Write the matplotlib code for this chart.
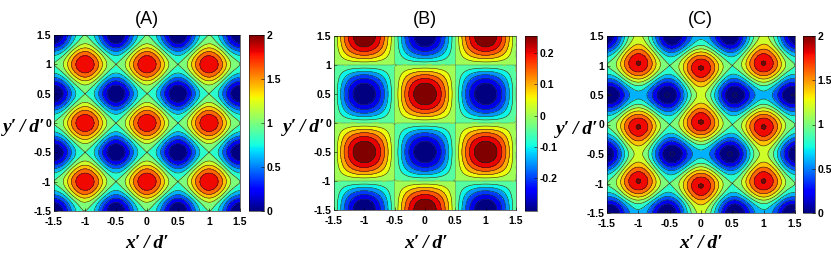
import matplotlib
matplotlib.use("Agg")
import matplotlib.pyplot as plt
import matplotlib.tri as mtri
import numpy as np

# grid nodes, step 0.125
x_nodes = [-1.5 + 0.125 * i for i in range(25)]
y_nodes = [-1.5 + 0.125 * i for i in range(25)]

# one repeating cell of each map, rows go upward from y=-1.5, columns from x=-1.5
# (A) repeats every 1 in x and y
cell_a = [
    [0, .146, .5, .854, 1, .854, .5, .146],
    [.146, .292, .646, 1, 1.146, 1, .646, .292],
    [.5, .646, 1, 1.354, 1.5, 1.354, 1, .646],
    [.854, 1, 1.354, 1.708, 1.854, 1.708, 1.354, 1],
    [1, 1.146, 1.5, 1.854, 2, 1.854, 1.5, 1.146],
    [.854, 1, 1.354, 1.708, 1.854, 1.708, 1.354, 1],
    [.5, .646, 1, 1.354, 1.5, 1.354, 1, .646],
    [.146, .292, .646, 1, 1.146, 1, .646, .292],
]
# (B) and (C) repeat every 2
cell_b = [
    [0, -.096, -.177, -.231, -.25, -.231, -.177, -.096, 0, .096, .177, .231, .25, .231, .177, .096],
    [0, -.088, -.163, -.213, -.231, -.213, -.163, -.088, 0, .088, .163, .213, .231, .213, .163, .088],
    [0, -.068, -.125, -.163, -.177, -.163, -.125, -.068, 0, .068, .125, .163, .177, .163, .125, .068],
    [0, -.037, -.068, -.088, -.096, -.088, -.068, -.037, 0, .037, .068, .088, .096, .088, .068, .037],
    [0, 0, 0, 0, 0, 0, 0, 0, 0, 0, 0, 0, 0, 0, 0, 0],
    [0, .037, .068, .088, .096, .088, .068, .037, 0, -.037, -.068, -.088, -.096, -.088, -.068, -.037],
    [0, .068, .125, .163, .177, .163, .125, .068, 0, -.068, -.125, -.163, -.177, -.163, -.125, -.068],
    [0, .088, .163, .213, .231, .213, .163, .088, 0, -.088, -.163, -.213, -.231, -.213, -.163, -.088],
    [0, .096, .177, .231, .25, .231, .177, .096, 0, -.096, -.177, -.231, -.25, -.231, -.177, -.096],
    [0, .088, .163, .213, .231, .213, .163, .088, 0, -.088, -.163, -.213, -.231, -.213, -.163, -.088],
    [0, .068, .125, .163, .177, .163, .125, .068, 0, -.068, -.125, -.163, -.177, -.163, -.125, -.068],
    [0, .037, .068, .088, .096, .088, .068, .037, 0, -.037, -.068, -.088, -.096, -.088, -.068, -.037],
    [0, 0, 0, 0, 0, 0, 0, 0, 0, 0, 0, 0, 0, 0, 0, 0],
    [0, -.037, -.068, -.088, -.096, -.088, -.068, -.037, 0, .037, .068, .088, .096, .088, .068, .037],
    [0, -.068, -.125, -.163, -.177, -.163, -.125, -.068, 0, .068, .125, .163, .177, .163, .125, .068],
    [0, -.088, -.163, -.213, -.231, -.213, -.163, -.088, 0, .088, .163, .213, .231, .213, .163, .088],
]
cell_c = [
    [0, .05, .323, .623, .75, .623, .323, .05, 0, .242, .677, 1.085, 1.25, 1.085, .677, .242],
    [.146, .204, .483, .787, .915, .787, .483, .204, .146, .38, .809, 1.213, 1.377, 1.213, .809, .38],
    [.5, .578, .875, 1.191, 1.323, 1.191, .875, .578, .5, .714, 1.125, 1.517, 1.677, 1.517, 1.125, .714],
    [.854, .963, 1.286, 1.62, 1.758, 1.62, 1.286, .963, .854, 1.037, 1.422, 1.796, 1.95, 1.796, 1.422, 1.037],
    [1, 1.146, 1.5, 1.854, 2, 1.854, 1.5, 1.146, 1, 1.146, 1.5, 1.854, 2, 1.854, 1.5, 1.146],
    [.854, 1.037, 1.422, 1.796, 1.95, 1.796, 1.422, 1.037, .854, .963, 1.286, 1.62, 1.758, 1.62, 1.286, .963],
    [.5, .714, 1.125, 1.517, 1.677, 1.517, 1.125, .714, .5, .578, .875, 1.191, 1.323, 1.191, .875, .578],
    [.146, .38, .809, 1.213, 1.377, 1.213, .809, .38, .146, .204, .483, .787, .915, .787, .483, .204],
    [0, .242, .677, 1.085, 1.25, 1.085, .677, .242, 0, .05, .323, .623, .75, .623, .323, .05],
    [.146, .38, .809, 1.213, 1.377, 1.213, .809, .38, .146, .204, .483, .787, .915, .787, .483, .204],
    [.5, .714, 1.125, 1.517, 1.677, 1.517, 1.125, .714, .5, .578, .875, 1.191, 1.323, 1.191, .875, .578],
    [.854, 1.037, 1.422, 1.796, 1.95, 1.796, 1.422, 1.037, .854, .963, 1.286, 1.62, 1.758, 1.62, 1.286, .963],
    [1, 1.146, 1.5, 1.854, 2, 1.854, 1.5, 1.146, 1, 1.146, 1.5, 1.854, 2, 1.854, 1.5, 1.146],
    [.854, .963, 1.286, 1.62, 1.758, 1.62, 1.286, .963, .854, 1.037, 1.422, 1.796, 1.95, 1.796, 1.422, 1.037],
    [.5, .578, .875, 1.191, 1.323, 1.191, .875, .578, .5, .714, 1.125, 1.517, 1.677, 1.517, 1.125, .714],
    [.146, .204, .483, .787, .915, .787, .483, .204, .146, .38, .809, 1.213, 1.377, 1.213, .809, .38],
]

tick_vals = [-1.5, -1, -0.5, 0, 0.5, 1, 1.5]
tick_text = ["-1.5", "-1", "-0.5", "0", "0.5", "1", "1.5"]
titles = ["(A)", "(B)", "(C)"]

levels_a = [0, .2, .4, .6, .8, 1, 1.2, 1.4, 1.6, 1.8, 2]
levels_b = [-.25, -.2083, -.1667, -.125, -.0833, -.0417, 0.0, .0417, .0833, .125, .1667, .2083, .25]
levels_c = [0, .2, .4, .6, .8, 1, 1.2, 1.4, 1.6, 1.8, 2]

W, H = 831, 256
plt.rcParams["font.family"] = ["Liberation Sans", "DejaVu Sans"]
fig = plt.figure(figsize=(W / 100, H / 100), dpi=100)


def box(left, top, right, bottom):
    return [left / W, 1 - bottom / H, (right - left) / W, (bottom - top) / H]


def panel(cell, levels, cb_range, ax_px, cb_px, cb_ticks, cb_text, title, title_x, ylab_x, xlab_x, ylab_y=128):
    ax = fig.add_axes(box(*ax_px))
    gx, gy = np.meshgrid(x_nodes, y_nodes)
    cell = np.array(cell, dtype=float)
    z = np.pad(cell, (0, 25 - len(cell)), mode="wrap")
    tri = mtri.Triangulation(gx.ravel(), gy.ravel())
    interp = mtri.CubicTriInterpolator(tri, z.ravel(), kind="min_E")
    fine_tri, fine_z = mtri.UniformTriRefiner(tri).refine_field(z.ravel(), interp, subdiv=2)

    # matlab style: each band takes the colour of its lower level
    lo, hi = levels[0], levels[-1]
    cmap = plt.get_cmap("jet")
    n = len(levels) - 1
    band_cols = [cmap(0.0)] + [cmap(i / (n if n == 10 else n - 1)) for i in range(n)] + [cmap(1.0)]
    ax.tricontourf(fine_tri, fine_z, levels=[lo - 1] + levels + [hi + 1], colors=band_cols)
    line_cols = ["#4f8f5f" if v == 0 and lo < 0 else "#222222" for v in levels]
    ax.tricontour(fine_tri, fine_z, levels=levels, colors=line_cols, linewidths=0.4,
                  linestyles="solid")

    ax.set_xlim(-1.5, 1.5)
    ax.set_ylim(-1.5, 1.5)
    ax.set_xticks(tick_vals)
    ax.set_xticklabels(tick_text, fontweight="bold", fontsize=7.5)
    ax.set_yticks(tick_vals)
    ax.set_yticklabels(tick_text, fontweight="bold", fontsize=7.5)
    ax.tick_params(direction="in", length=2, width=0.4, pad=2)
    ax.tick_params(axis="x", pad=4)
    for s in ax.spines.values():
        s.set_linewidth(0.4)

    cax = fig.add_axes(box(*cb_px))
    sm = plt.cm.ScalarMappable(norm=plt.Normalize(*cb_range), cmap="jet")
    cb = fig.colorbar(sm, cax=cax)
    cb.set_ticks(cb_ticks)
    cb.set_ticklabels(cb_text, fontweight="bold", fontsize=7.5)
    cb.ax.tick_params(direction="in", length=2, width=0.4, pad=2)
    cb.outline.set_linewidth(0.4)

    fig.text(title_x / W, 1 - 20 / H, title, ha="center", va="center", fontsize=13)
    lab = dict(family="Liberation Serif", fontweight="bold", style="italic", fontsize=14,
               ha="center", va="center")
    fig.text(ylab_x / W, 1 - ylab_y / H, "y\u2032\u2009/\u2009d\u2032", **lab)
    fig.text(xlab_x / W, 1 - 244 / H, "x\u2032\u2009/\u2009d\u2032", **lab)


panel(cell_a, levels_a, (0, 2), (54, 35, 240, 211), (249, 35, 264, 211),
      [0, .5, 1, 1.5, 2], ["0", "0.5", "1", "1.5", "2"], titles[0], 147, 24, 147)
panel(cell_b, levels_b, (-.306, .255), (334, 36, 516, 210), (525, 36, 537, 211),
      [-.2, -.1, 0, .1, .2], ["-0.2", "-0.1", "0", "0.1", "0.2"], titles[1], 425, 304, 426)
panel(cell_c, levels_c, (0, 2), (607, 36, 795, 213), (803, 36, 815, 213),
      [0, .5, 1, 1.5, 2], ["0", "0.5", "1", "1.5", "2"], titles[2], 700, 577, 701, 130)

fig.savefig("out.png", dpi=100)
